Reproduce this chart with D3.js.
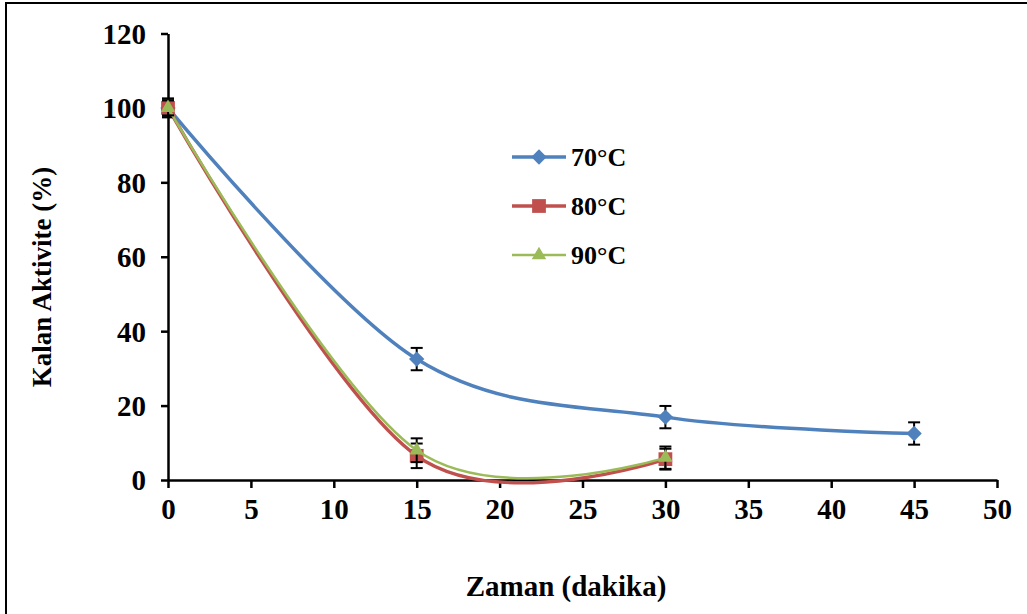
<!DOCTYPE html>
<html>
<head>
<meta charset="utf-8">
<script src="https://cdn.jsdelivr.net/npm/d3@7"></script>
<style>
  body { margin: 0; background: #fff; }
  svg { display: block; }
  text { font-family: "Liberation Serif", "Times New Roman", serif; font-weight: bold; fill: #000; }
</style>
</head>
<body>
<div id="chart"></div>
<script>
// data
var seriesNames = ["70°C", "80°C", "90°C"];
var times70 = [0, 15, 30, 45];
var act70 = [100, 32.5, 16.9, 12.5];
var err70 = [2.5, 3, 3, 3];
var times80 = [0, 15, 30];
var act80 = [100, 6.5, 5.6];
var err80 = [2.5, 3.3, 2.8];
var times90 = [0, 15, 30];
var act90 = [100, 8, 6];
var err90 = [2, 3.2, 3];
var xTicks = [0, 5, 10, 15, 20, 25, 30, 35, 40, 45, 50];
var yTicks = [0, 20, 40, 60, 80, 100, 120];

var W = 1027, H = 614;
var plot = {left: 168, right: 997, top: 33.5, bottom: 480};

var svg = d3.select("#chart").append("svg")
  .attr("width", W)
  .attr("height", H);

// outer frame (cut off on right and bottom in the original)
svg.append("rect")
  .attr("x", 6).attr("y", 3)
  .attr("width", 1040).attr("height", 640)
  .attr("fill", "none")
  .attr("stroke", "#000")
  .attr("stroke-width", 2);

var x = d3.scaleLinear().domain([0, 50]).range([plot.left, plot.right]);
var y = d3.scaleLinear().domain([0, 120]).range([plot.bottom, plot.top]);

// axes
var gx = svg.append("g")
  .attr("transform", "translate(0," + plot.bottom + ")")
  .call(d3.axisBottom(x).tickValues(xTicks).tickSize(8).tickPadding(10).tickSizeOuter(0));
var gy = svg.append("g")
  .attr("transform", "translate(" + plot.left + ",0)")
  .call(d3.axisLeft(y).tickValues(yTicks).tickSize(7).tickPadding(15).tickSizeOuter(0));

[gx, gy].forEach(function (g) {
  g.select(".domain").attr("stroke", "#000").attr("stroke-width", 2.5);
  g.selectAll(".tick line").attr("stroke", "#000").attr("stroke-width", 2.5);
  g.selectAll(".tick text")
    .style("font-family", "'Liberation Serif', 'Times New Roman', serif")
    .style("font-weight", "bold")
    .style("font-size", "29px")
    .attr("fill", "#000");
});
gy.selectAll(".tick text").attr("dy", "0.34em");

// axis titles
svg.append("text")
  .attr("x", 566)
  .attr("y", 596)
  .attr("text-anchor", "middle")
  .style("font-size", "29px")
  .text("Zaman (dakika)");

svg.append("text")
  .attr("transform", "translate(51,277)rotate(-90)")
  .attr("text-anchor", "middle")
  .style("font-size", "27px")
  .text("Kalan Aktivite (%)");

var series = [
  { name: seriesNames[0], t: times70, v: act70, e: err70, color: "#4F81BD", width: 3.5, marker: "diamond" },
  { name: seriesNames[1], t: times80, v: act80, e: err80, color: "#C0504D", width: 3.5, marker: "square" },
  { name: seriesNames[2], t: times90, v: act90, e: err90, color: "#9BBB59", width: 2.5, marker: "triangle" }
];

var line = d3.line()
  .x(function (d) { return x(d[0]); })
  .y(function (d) { return y(d[1]); })
  .curve(d3.curveCatmullRom.alpha(0));

var symbolOf = {
  diamond: d3.symbol().type(d3.symbolDiamond2).size(150),
  square: d3.symbol().type(d3.symbolSquare).size(190),
  triangle: d3.symbol().type(d3.symbolTriangle2).size(150)
};

series.forEach(function (s) {
  var pts = s.t.map(function (t, i) { return [t, s.v[i], s.e[i]]; });

  svg.append("path")
    .datum(pts)
    .attr("d", line)
    .attr("fill", "none")
    .attr("stroke", s.color)
    .attr("stroke-width", s.width);

  // error bars
  pts.forEach(function (p) {
    var g = svg.append("g").attr("stroke", "#000").attr("stroke-width", 2);
    g.append("line")
      .attr("x1", x(p[0])).attr("x2", x(p[0]))
      .attr("y1", y(p[1] + p[2])).attr("y2", y(p[1] - p[2]));
    [p[1] + p[2], p[1] - p[2]].forEach(function (v) {
      g.append("line")
        .attr("x1", x(p[0]) - 6).attr("x2", x(p[0]) + 6)
        .attr("y1", y(v)).attr("y2", y(v));
    });
  });

  svg.selectAll(null)
    .data(pts)
    .enter().append("path")
    .attr("d", symbolOf[s.marker])
    .attr("transform", function (d) { return "translate(" + x(d[0]) + "," + y(d[1]) + ")"; })
    .attr("fill", s.color);
});

// legend
var legendY = [157, 206, 255];
series.forEach(function (s, i) {
  var g = svg.append("g").attr("transform", "translate(0," + legendY[i] + ")");
  g.append("line")
    .attr("x1", 512).attr("x2", 566)
    .attr("y1", 0).attr("y2", 0)
    .attr("stroke", s.color)
    .attr("stroke-width", s.width);
  g.append("path")
    .attr("d", symbolOf[s.marker])
    .attr("transform", "translate(539,0)")
    .attr("fill", s.color);
  g.append("text")
    .attr("x", 571)
    .attr("y", 9)
    .style("font-size", "26px")
    .text(s.name);
});
</script>
</body>
</html>
